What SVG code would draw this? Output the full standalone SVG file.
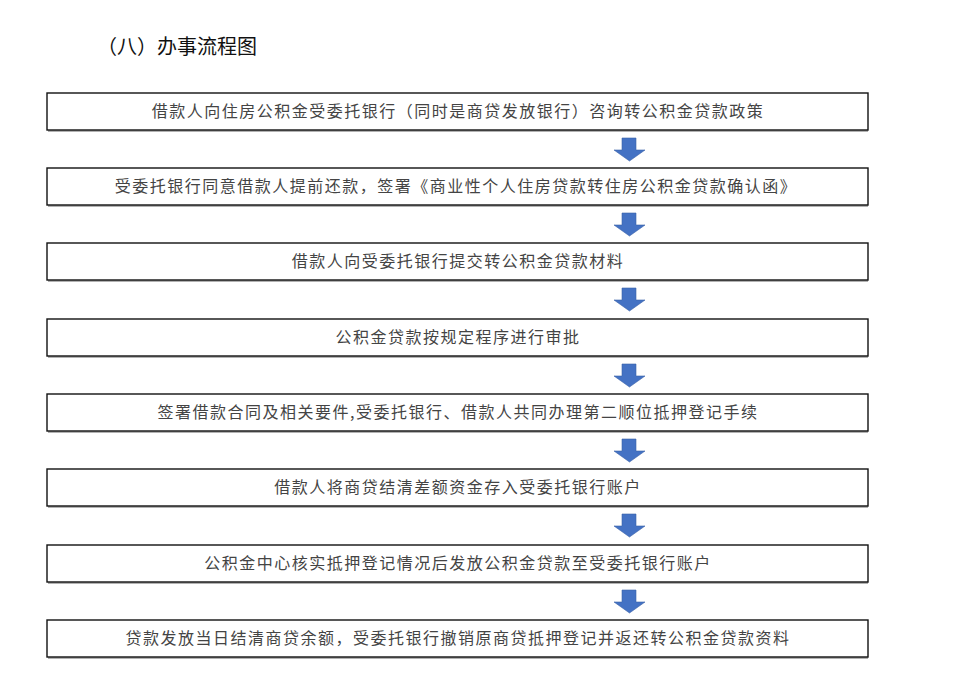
<svg xmlns="http://www.w3.org/2000/svg" width="960" height="689" viewBox="0 0 960 689">
<defs>
<style>
.box{fill:#fff;stroke:#111;stroke-width:1.4}
.sh{fill:none;stroke:#666;stroke-width:1.2}
.t{font-family:"Noto Sans CJK SC","Liberation Serif",serif;font-size:16px;fill:#444;text-anchor:middle;letter-spacing:1.5px}
.title{font-family:"Noto Sans CJK SC","Liberation Sans",sans-serif;font-size:20px;fill:#111}
.arr{fill:#4472C4;stroke:#3a62a8;stroke-width:0.6}
</style>
<path id="a" class="arr" d="M622,0 H636 V12 H645 L629.5,23 L614,12 H622 Z"/>
</defs>
<rect width="960" height="689" fill="#fff"/>
<text class="title" x="97" y="54">（八）办事流程图</text>
<g id="connectors">
<use href="#a" y="138"/>
<use href="#a" y="213"/>
<use href="#a" y="288"/>
<use href="#a" y="364"/>
<use href="#a" y="439"/>
<use href="#a" y="514"/>
<use href="#a" y="590"/>
</g>
<g id="n1"><line class="sh" x1="48" y1="131" x2="868" y2="131"/><rect class="box" x="47" y="93" width="821" height="37"/><text class="t" x="458" y="117">借款人向住房公积金受委托银行（同时是商贷发放银行）咨询转公积金贷款政策</text></g>
<g id="n2"><line class="sh" x1="48" y1="206" x2="868" y2="206"/><rect class="box" x="47" y="168" width="821" height="37"/><text class="t" x="456" y="192">受委托银行同意借款人提前还款，签署《商业性个人住房贷款转住房公积金贷款确认函》</text></g>
<g id="n3"><line class="sh" x1="48" y1="281" x2="868" y2="281"/><rect class="box" x="47" y="243" width="821" height="37"/><text class="t" x="458" y="267">借款人向受委托银行提交转公积金贷款材料</text></g>
<g id="n4"><line class="sh" x1="48" y1="357" x2="868" y2="357"/><rect class="box" x="47" y="319" width="821" height="37"/><text class="t" x="458" y="343">公积金贷款按规定程序进行审批</text></g>
<g id="n5"><line class="sh" x1="48" y1="432" x2="868" y2="432"/><rect class="box" x="47" y="394" width="821" height="37"/><text class="t" x="458" y="418">签署借款合同及相关要件,受委托银行、借款人共同办理第二顺位抵押登记手续</text></g>
<g id="n6"><line class="sh" x1="48" y1="507" x2="868" y2="507"/><rect class="box" x="47" y="469" width="821" height="37"/><text class="t" x="458" y="493">借款人将商贷结清差额资金存入受委托银行账户</text></g>
<g id="n7"><line class="sh" x1="48" y1="583" x2="868" y2="583"/><rect class="box" x="47" y="545" width="821" height="37"/><text class="t" x="458" y="569">公积金中心核实抵押登记情况后发放公积金贷款至受委托银行账户</text></g>
<g id="n8"><line class="sh" x1="48" y1="658" x2="868" y2="658"/><rect class="box" x="47" y="620" width="821" height="37"/><text class="t" x="458" y="644">贷款发放当日结清商贷余额，受委托银行撤销原商贷抵押登记并返还转公积金贷款资料</text></g>
</svg>
